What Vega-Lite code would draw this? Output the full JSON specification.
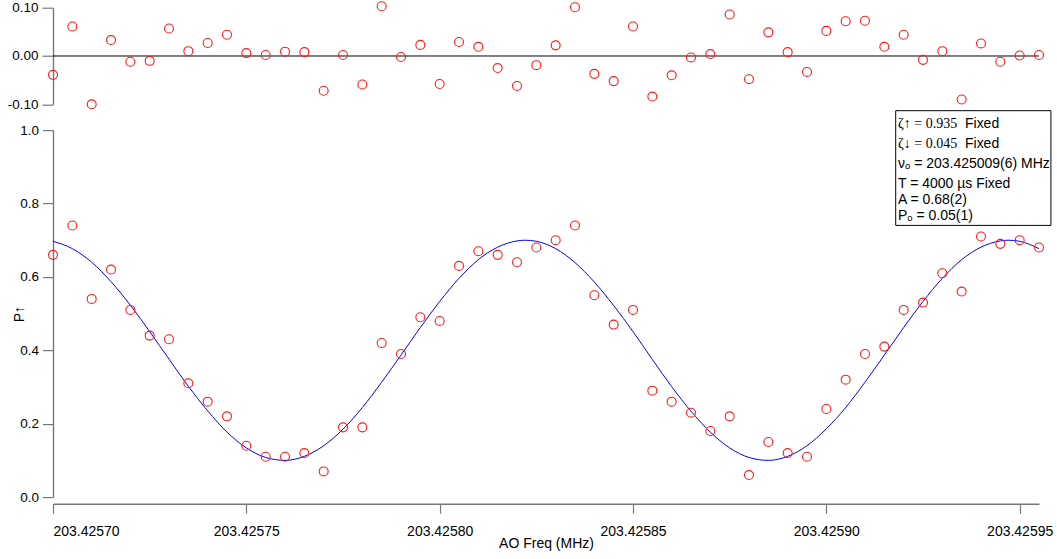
{
  "$schema": "https://vega.github.io/schema/vega-lite/v6.json",
  "padding": {"left": 7, "top": -1.3, "right": 4, "bottom": 6},
  "bounds": "flush",
  "spacing": 25.4,
  "config": {
    "view": {"stroke": null},
    "font": "Liberation Sans",
    "axis": {
      "grid": false,
      "domainColor": "#777777",
      "domainWidth": 1.4,
      "tickColor": "#777777",
      "tickWidth": 1.2,
      "labelFont": "Liberation Sans",
      "titleFont": "Liberation Sans",
      "labelColor": "#000000",
      "titleColor": "#000000",
      "titleFontWeight": "normal"
    }
  },
  "datasets": {
    "pts": [
      {"freq": 203.4257, "P": 0.66, "resid": -0.039},
      {"freq": 203.425705, "P": 0.74, "resid": 0.061},
      {"freq": 203.42571, "P": 0.54, "resid": -0.100},
      {"freq": 203.425715, "P": 0.62, "resid": 0.033},
      {"freq": 203.42572, "P": 0.51, "resid": -0.012},
      {"freq": 203.425725, "P": 0.44, "resid": -0.010},
      {"freq": 203.42573, "P": 0.43, "resid": 0.057},
      {"freq": 203.425735, "P": 0.31, "resid": 0.010},
      {"freq": 203.42574, "P": 0.26, "resid": 0.027},
      {"freq": 203.425745, "P": 0.22, "resid": 0.044},
      {"freq": 203.42575, "P": 0.14, "resid": 0.006},
      {"freq": 203.425755, "P": 0.11, "resid": 0.002},
      {"freq": 203.42576, "P": 0.11, "resid": 0.009},
      {"freq": 203.425765, "P": 0.12, "resid": 0.008},
      {"freq": 203.42577, "P": 0.07, "resid": -0.072},
      {"freq": 203.425775, "P": 0.19, "resid": 0.002},
      {"freq": 203.42578, "P": 0.19, "resid": -0.059},
      {"freq": 203.425785, "P": 0.42, "resid": 0.103},
      {"freq": 203.42579, "P": 0.39, "resid": -0.002},
      {"freq": 203.425795, "P": 0.49, "resid": 0.023},
      {"freq": 203.4258, "P": 0.48, "resid": -0.058},
      {"freq": 203.425805, "P": 0.63, "resid": 0.029},
      {"freq": 203.42581, "P": 0.67, "resid": 0.019},
      {"freq": 203.425815, "P": 0.66, "resid": -0.025},
      {"freq": 203.42582, "P": 0.64, "resid": -0.062},
      {"freq": 203.425825, "P": 0.68, "resid": -0.019},
      {"freq": 203.42583, "P": 0.70, "resid": 0.022},
      {"freq": 203.425835, "P": 0.74, "resid": 0.101},
      {"freq": 203.42584, "P": 0.55, "resid": -0.037},
      {"freq": 203.425845, "P": 0.47, "resid": -0.052},
      {"freq": 203.42585, "P": 0.51, "resid": 0.061},
      {"freq": 203.425855, "P": 0.29, "resid": -0.084},
      {"freq": 203.42586, "P": 0.26, "resid": -0.040},
      {"freq": 203.425865, "P": 0.23, "resid": -0.003},
      {"freq": 203.42587, "P": 0.18, "resid": 0.004},
      {"freq": 203.425875, "P": 0.22, "resid": 0.086},
      {"freq": 203.42588, "P": 0.06, "resid": -0.048},
      {"freq": 203.425885, "P": 0.15, "resid": 0.049},
      {"freq": 203.42589, "P": 0.12, "resid": 0.008},
      {"freq": 203.425895, "P": 0.11, "resid": -0.033},
      {"freq": 203.4259, "P": 0.24, "resid": 0.052},
      {"freq": 203.425905, "P": 0.32, "resid": 0.072},
      {"freq": 203.42591, "P": 0.39, "resid": 0.073},
      {"freq": 203.425915, "P": 0.41, "resid": 0.019},
      {"freq": 203.42592, "P": 0.51, "resid": 0.044},
      {"freq": 203.425925, "P": 0.53, "resid": -0.008},
      {"freq": 203.42593, "P": 0.61, "resid": 0.010},
      {"freq": 203.425935, "P": 0.56, "resid": -0.090},
      {"freq": 203.42594, "P": 0.71, "resid": 0.026},
      {"freq": 203.425945, "P": 0.69, "resid": -0.012},
      {"freq": 203.42595, "P": 0.70, "resid": 0.001},
      {"freq": 203.425955, "P": 0.68, "resid": 0.002}
    ],
    "fit": [
      {"freq": 203.4257, "fit": 0.697},
      {"freq": 203.425705, "fit": 0.677},
      {"freq": 203.42571, "fit": 0.640},
      {"freq": 203.425715, "fit": 0.587},
      {"freq": 203.42572, "fit": 0.523},
      {"freq": 203.425725, "fit": 0.451},
      {"freq": 203.42573, "fit": 0.376},
      {"freq": 203.425735, "fit": 0.302},
      {"freq": 203.42574, "fit": 0.235},
      {"freq": 203.425745, "fit": 0.177},
      {"freq": 203.42575, "fit": 0.134},
      {"freq": 203.425755, "fit": 0.108},
      {"freq": 203.42576, "fit": 0.100},
      {"freq": 203.425765, "fit": 0.111},
      {"freq": 203.42577, "fit": 0.140},
      {"freq": 203.425775, "fit": 0.185},
      {"freq": 203.42578, "fit": 0.244},
      {"freq": 203.425785, "fit": 0.313},
      {"freq": 203.42579, "fit": 0.387},
      {"freq": 203.425795, "fit": 0.462},
      {"freq": 203.4258, "fit": 0.533},
      {"freq": 203.425805, "fit": 0.596},
      {"freq": 203.42581, "fit": 0.647},
      {"freq": 203.425815, "fit": 0.681},
      {"freq": 203.42582, "fit": 0.698},
      {"freq": 203.425822, "fit": 0.700},
      {"freq": 203.425825, "fit": 0.697},
      {"freq": 203.42583, "fit": 0.677},
      {"freq": 203.425835, "fit": 0.639},
      {"freq": 203.42584, "fit": 0.586},
      {"freq": 203.425845, "fit": 0.522},
      {"freq": 203.42585, "fit": 0.451},
      {"freq": 203.425855, "fit": 0.375},
      {"freq": 203.42586, "fit": 0.301},
      {"freq": 203.425865, "fit": 0.234},
      {"freq": 203.42587, "fit": 0.177},
      {"freq": 203.425875, "fit": 0.134},
      {"freq": 203.42588, "fit": 0.108},
      {"freq": 203.425885, "fit": 0.100},
      {"freq": 203.42589, "fit": 0.111},
      {"freq": 203.425895, "fit": 0.140},
      {"freq": 203.4259, "fit": 0.186},
      {"freq": 203.425905, "fit": 0.244},
      {"freq": 203.42591, "fit": 0.313},
      {"freq": 203.425915, "fit": 0.387},
      {"freq": 203.42592, "fit": 0.462},
      {"freq": 203.425925, "fit": 0.533},
      {"freq": 203.42593, "fit": 0.596},
      {"freq": 203.425935, "fit": 0.647},
      {"freq": 203.42594, "fit": 0.681},
      {"freq": 203.425945, "fit": 0.698},
      {"freq": 203.425947, "fit": 0.700},
      {"freq": 203.42595, "fit": 0.697},
      {"freq": 203.425955, "fit": 0.677}
    ]
  },
  "vconcat": [
    {
      "width": 986,
      "height": 96.6,
      "layer": [
        {
          "data": {"values": [{}]},
          "mark": {"type": "rule", "color": "#000000", "strokeWidth": 1},
          "encoding": {"y": {"datum": 0, "type": "quantitative"}}
        },
        {
          "data": {"name": "pts"},
          "mark": {"type": "point", "shape": "circle", "filled": false, "color": "#ff1a1a", "size": 80, "strokeWidth": 1.1, "opacity": 1},
          "encoding": {
            "x": {"field": "freq", "type": "quantitative", "scale": {"domain": [203.4257, 203.425955], "nice": false, "zero": false}, "axis": null},
            "y": {
              "field": "resid", "type": "quantitative",
              "scale": {"domain": [-0.1, 0.1], "nice": false, "zero": false},
              "axis": {
                "title": null,
                "values": [-0.1, -0.05, 0, 0.05, 0.1],
                "labelExpr": "replace(format(datum.value, '.2f'), '\u2212', '-')",
                "labelFontSize": 13.5,
                "tickSize": 11,
                "labelPadding": 4
              }
            }
          }
        }
      ]
    },
    {
      "width": 986,
      "height": 367,
      "layer": [
        {
          "data": {"name": "fit"},
          "mark": {"type": "line", "color": "#0000ff", "strokeWidth": 1, "interpolate": "monotone"},
          "encoding": {
            "x": {"field": "freq", "type": "quantitative", "scale": {"domain": [203.4257, 203.425955], "nice": false, "zero": false},
              "axis": {
                "title": "AO Freq (MHz)",
                "values": [203.4257, 203.42575, 203.4258, 203.42585, 203.4259, 203.42595],
                "format": ".5f",
                "labelFontSize": 14,
                "titleFontSize": 14,
                "tickSize": 9.5,
                "labelPadding": 11.5,
                "titlePadding": -2,
                "offset": 6.6
              }
            },
            "y": {"field": "fit", "type": "quantitative", "scale": {"domain": [0, 1], "nice": false, "zero": false},
              "axis": {
                "title": "P↑",
                "values": [0, 0.2, 0.4, 0.6, 0.8, 1.0],
                "format": ".1f",
                "labelFontSize": 13.5,
                "titleFontSize": 14,
                "tickSize": 10.5,
                "labelPadding": 4,
                "titleX": -34,
                "titleBaseline": "middle"
              }
            }
          }
        },
        {
          "data": {"name": "pts"},
          "mark": {"type": "point", "shape": "circle", "filled": false, "color": "#ff1a1a", "size": 80, "strokeWidth": 1.1, "opacity": 1},
          "encoding": {
            "x": {"field": "freq", "type": "quantitative"},
            "y": {"field": "P", "type": "quantitative"}
          }
        },
        {
          "data": {"values": [{}]},
          "mark": {"type": "rect", "fill": "#ffffff", "stroke": "#000000", "strokeWidth": 1},
          "encoding": {
            "x": {"datum": 203.42591794, "type": "quantitative"},
            "x2": {"datum": 203.42595809},
            "y": {"datum": 1.0529, "type": "quantitative"},
            "y2": {"datum": 0.7403}
          }
        },
        {
          "data": {"values": [{}]},
          "mark": {"type": "text", "align": "left", "baseline": "middle", "font": "Liberation Serif", "fontSize": 14, "lineHeight": 20.6, "color": "#000000"},
          "encoding": {
            "x": {"datum": 203.42591854, "type": "quantitative"},
            "y": {"datum": 1.0178, "type": "quantitative"},
            "text": {"value": ["ζ↑ = 0.935", "ζ↓ = 0.045"]}
          }
        },
        {
          "data": {"values": [{}]},
          "mark": {"type": "text", "align": "left", "baseline": "middle", "font": "Liberation Sans", "fontSize": 14, "lineHeight": 20.6, "color": "#000000"},
          "encoding": {
            "x": {"datum": 203.42593586, "type": "quantitative"},
            "y": {"datum": 1.0178, "type": "quantitative"},
            "text": {"value": ["Fixed", "Fixed"]}
          }
        },
        {
          "data": {"values": [{}]},
          "mark": {"type": "text", "align": "left", "baseline": "middle", "font": "Liberation Sans", "fontSize": 14, "lineHeight": 20, "color": "#000000"},
          "encoding": {
            "x": {"datum": 203.42591854, "type": "quantitative"},
            "y": {"datum": 0.908, "type": "quantitative"},
            "text": {"value": ["νₒ = 203.425009(6) MHz", "T = 4000 µs Fixed"]}
          }
        },
        {
          "data": {"values": [{}]},
          "mark": {"type": "text", "align": "left", "baseline": "middle", "font": "Liberation Sans", "fontSize": 14, "lineHeight": 16, "color": "#000000"},
          "encoding": {
            "x": {"datum": 203.42591854, "type": "quantitative"},
            "y": {"datum": 0.8107, "type": "quantitative"},
            "text": {"value": ["A = 0.68(2)", "Pₒ = 0.05(1)"]}
          }
        }
      ]
    }
  ]
}
